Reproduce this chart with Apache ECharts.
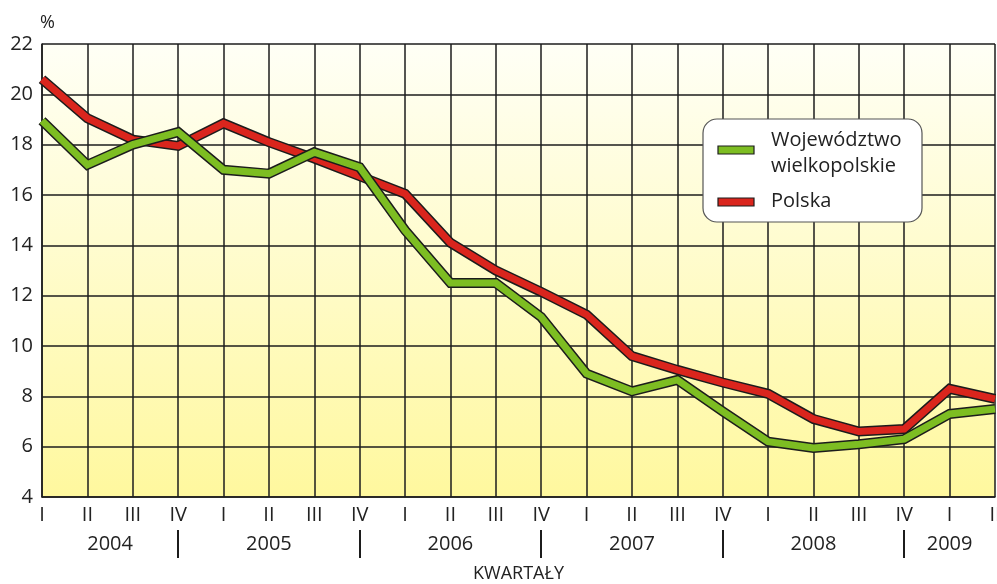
<!DOCTYPE html>
<html>
<head>
<meta charset="utf-8">
<script src="https://cdn.jsdelivr.net/npm/echarts@6/dist/echarts.min.js"></script>
<style>
html,body{margin:0;padding:0;background:#fff;}
#c{width:997px;height:584px;}
</style>
</head>
<body>
<div id="c"></div>
<script>
const quarters = ['I','II','III','IV','I','II','III','IV','I','II','III','IV','I','II','III','IV','I','II','III','IV','I','II'];
const years = ['2004','2005','2006','2007','2008','2009'];
const yearLabelPos = [1.5, 5, 9, 13, 17, 20];
const yearSeparatorPos = [3, 7, 11, 15, 19];
const polska = [20.6,19.05,18.2,17.95,18.85,18.1,17.45,16.75,16.05,14.1,13.0,12.15,11.25,9.6,9.05,8.55,8.1,7.1,6.6,6.7,8.3,7.9];
const wielkopolskie = [18.95,17.2,18.0,18.5,17.0,16.85,17.7,17.1,14.6,12.5,12.5,11.15,8.9,8.2,8.65,7.4,6.2,5.95,6.1,6.3,7.3,7.5];

const FONT = '"Open Sans", "Noto Sans", sans-serif';
const RED = '#da251d';
const GREEN = '#7dbd22';
const DARK = '#1c1c1c';

const chart = echarts.init(document.getElementById('c'));
function lineSeries(name, data, color, width, z) {
  return {
    name: name, type: 'line', data: data, xAxisIndex: 0, yAxisIndex: 0,
    symbol: 'none', z: z, silent: true,
    lineStyle: {color: color, width: width, join: 'miter', cap: 'butt'}
  };
}
chart.setOption({
  animation: false,
  textStyle: {fontFamily: FONT},
  grid: {
    left: 42, right: 2, top: 44, bottom: 87, show: true, borderWidth: 0,
    containLabel: false, outerBoundsMode: 'none',
    backgroundColor: new echarts.graphic.LinearGradient(0, 0, 0, 1, [
      {offset: 0, color: '#fffff6'},
      {offset: 1, color: '#fff89e'}
    ])
  },
  xAxis: [{
    type: 'category', data: quarters, boundaryGap: false,
    axisLine: {show: true, lineStyle: {color: DARK, width: 1.5}},
    axisTick: {show: false},
    axisLabel: {interval: 0, color: '#222', fontSize: 20, margin: 8, fontFamily: FONT},
    splitLine: {show: true, lineStyle: {color: DARK, width: 1.5}}
  }, {
    type: 'value', min: 0, max: 21, position: 'bottom', offset: 33,
    axisLine: {show: false},
    splitLine: {show: false},
    axisTick: {show: true, customValues: yearSeparatorPos, length: 28, lineStyle: {color: DARK, width: 2}},
    axisLabel: {
      show: true, customValues: yearLabelPos, margin: 4, fontSize: 20, color: '#222', fontFamily: FONT,
      formatter: function (v) { const i = yearLabelPos.indexOf(v); return i >= 0 ? years[i] : ''; }
    },
    name: 'KWARTAŁY', nameLocation: 'middle', nameGap: 35,
    nameTextStyle: {fontSize: 18, color: '#222', fontFamily: FONT}
  }],
  yAxis: {
    type: 'value', min: 4, max: 22, interval: 2,
    axisLine: {show: true, lineStyle: {color: DARK, width: 1.5}},
    axisTick: {show: false},
    axisLabel: {color: '#222', fontSize: 20, margin: 9, fontFamily: FONT},
    splitLine: {show: true, lineStyle: {color: DARK, width: 1.5}},
    name: '%', nameLocation: 'end', nameGap: 12,
    nameTextStyle: {fontSize: 18, color: '#222', align: 'left', padding: [0, 0, 0, -2], fontFamily: FONT}
  },
  series: [
    lineSeries('Polska_o', polska, DARK, 10, 3),
    lineSeries('Polska', polska, RED, 7, 4),
    lineSeries('Województwo_o', wielkopolskie, DARK, 10, 5),
    lineSeries('Województwo wielkopolskie', wielkopolskie, GREEN, 7, 6)
  ],
  graphic: [
    {type: 'rect', z: 100, shape: {x: 703, y: 119, width: 219, height: 103, r: 14},
     style: {fill: '#ffffff', stroke: '#555', lineWidth: 1.2}},
    {type: 'rect', z: 101, shape: {x: 718, y: 146, width: 36, height: 8},
     style: {fill: GREEN, stroke: DARK, lineWidth: 1.2}},
    {type: 'rect', z: 101, shape: {x: 718, y: 198, width: 36, height: 8},
     style: {fill: RED, stroke: DARK, lineWidth: 1.2}},
    {type: 'text', z: 101, x: 771, y: 130, style: {text: 'Województwo', fontSize: 20, fill: '#222', fontFamily: FONT}},
    {type: 'text', z: 101, x: 771, y: 156, style: {text: 'wielkopolskie', fontSize: 20, fill: '#222', fontFamily: FONT}},
    {type: 'text', z: 101, x: 771, y: 191, style: {text: 'Polska', fontSize: 20, fill: '#222', fontFamily: FONT}}
  ]
});
</script>
</body>
</html>
